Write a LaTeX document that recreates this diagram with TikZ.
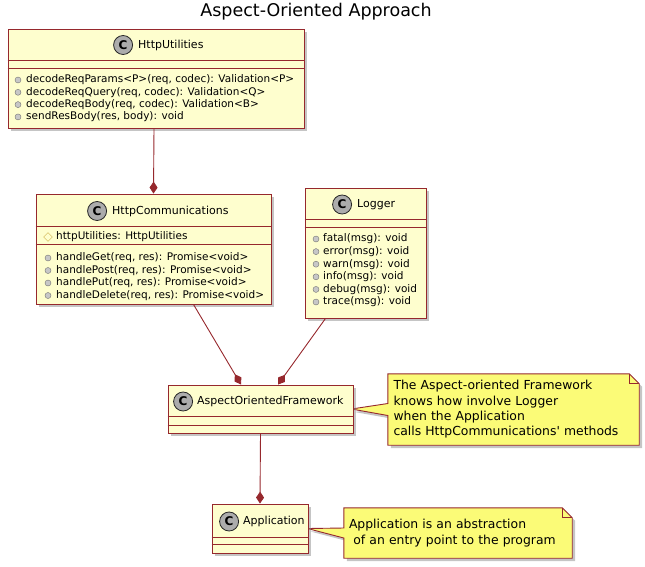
\documentclass[tikz,border=0pt]{standalone}
\usepackage{fontspec}
\setmainfont{DejaVu Sans}
\usetikzlibrary{positioning, shadows, arrows.meta, shapes.geometric, backgrounds}

\definecolor{classfill}{RGB}{254,254,206}
\definecolor{umlred}{RGB}{150,40,45}
\definecolor{notefill}{RGB}{251,251,119}
\definecolor{icongray}{RGB}{172,172,172}
\definecolor{protyellow}{RGB}{205,175,70}

\tikzset{
    classbox/.style={draw=umlred, fill=classfill, line width=0.9pt, inner sep=0pt,
        drop shadow={shadow xshift=3pt, shadow yshift=-3pt, fill=black!45, opacity=.5}},
    sep/.style={draw=umlred, line width=0.9pt},
    classname/.style={anchor=west, inner sep=0pt, font=\fontsize{11}{13}\selectfont},
    cicon/.style={circle, draw=black!85, fill=icongray, line width=0.8pt, minimum size=19pt,
        inner sep=0pt, font=\fontsize{12}{12}\selectfont\bfseries},
    member/.style={anchor=west, inner sep=0pt, font=\fontsize{10.5}{12}\selectfont},
    pubdot/.style={circle, draw=black!55, fill=black!22, minimum size=6pt, inner sep=0pt},
    protdot/.style={diamond, draw=protyellow, fill=classfill, minimum size=9pt, inner sep=0pt},
    compose/.style={draw=umlred, line width=0.9pt, -{Diamond[length=12pt,width=8pt]}},
    notebox/.style={inner sep=0pt, align=left, font=\fontsize{12.4}{15.3}\selectfont},
    noteshape/.style={draw=umlred, fill=notefill, line width=0.9pt,
        drop shadow={shadow xshift=3pt, shadow yshift=-3pt, fill=black!45, opacity=.5}},
}

\begin{document}
\begin{tikzpicture}[x=1pt, y=-1pt]
    \useasboundingbox (0,0) rectangle (645,566);

    \node[font=\fontsize{17.5}{20}\selectfont] (title) at (316,12) {Aspect-Oriented Approach};

    % HttpUtilities
    \node[classbox, minimum width=296pt, minimum height=99pt] (util) at (156,78.5) {};
    \draw[sep] ([yshift=-32pt]util.north west) -- ([yshift=-32pt]util.north east);
    \draw[sep] ([yshift=-40pt]util.north west) -- ([yshift=-40pt]util.north east);
    \node[classname] (utilname) at (138,45) {HttpUtilities};
    \node[cicon, left=5pt of utilname] (utilc) {C};
    \foreach \m [count=\i] in {{decodeReqParams<P>(req, codec): Validation<P>},
        {decodeReqQuery(req, codec): Validation<Q>},
        {decodeReqBody(req, codec): Validation<B>},
        {sendResBody(res, body): void}} {
        \node[pubdot] (util-d\i) at (18,67.7+12.3*\i) {};
        \node[member] (util-m\i) at (26,67.7+12.3*\i) {\m};
    }

    % HttpCommunications
    \node[classbox, minimum width=235pt, minimum height=110pt] (comm) at (153.5,249) {};
    \draw[sep] ([yshift=-33pt]comm.north west) -- ([yshift=-33pt]comm.north east);
    \draw[sep] ([yshift=-51pt]comm.north west) -- ([yshift=-51pt]comm.north east);
    \node[classname] (commname) at (112,211) {HttpCommunications};
    \node[cicon, left=5pt of commname] (commc) {C};
    \node[protdot] (comm-a) at (48,237) {};
    \node[member] (comm-attr) at (56,237) {httpUtilities: HttpUtilities};
    \foreach \m [count=\i] in {{handleGet(req, res): Promise<void>},
        {handlePost(req, res): Promise<void>},
        {handlePut(req, res): Promise<void>},
        {handleDelete(req, res): Promise<void>}} {
        \node[pubdot] (comm-d\i) at (48,245.5+12.5*\i) {};
        \node[member] (comm-m\i) at (56,245.5+12.5*\i) {\m};
    }

    % Logger
    \node[classbox, minimum width=121pt, minimum height=130pt] (logger) at (365.5,253) {};
    \draw[sep] ([yshift=-32pt]logger.north west) -- ([yshift=-32pt]logger.north east);
    \draw[sep] ([yshift=-40pt]logger.north west) -- ([yshift=-40pt]logger.north east);
    \node[classname] (loggername) at (357,204.5) {Logger};
    \node[cicon, left=5pt of loggername] (loggerc) {C};
    \foreach \m [count=\i] in {fatal(msg): void, error(msg): void, warn(msg): void,
        info(msg): void, debug(msg): void, trace(msg): void} {
        \node[pubdot] (logger-d\i) at (316,226.4+12.6*\i) {};
        \node[member] (logger-m\i) at (323,226.4+12.6*\i) {\m};
    }

    % AspectOrientedFramework
    \node[classbox, minimum width=185pt, minimum height=48pt] (aof) at (260.5,409) {};
    \draw[sep] ([yshift=-32pt]aof.north west) -- ([yshift=-32pt]aof.north east);
    \draw[sep] ([yshift=-41pt]aof.north west) -- ([yshift=-41pt]aof.north east);
    \node[classname] (aofname) at (197,401.5) {AspectOrientedFramework};
    \node[cicon, left=4pt of aofname] (aofc) {C};

    % Application
    \node[classbox, minimum width=96pt, minimum height=49pt] (app) at (260,528.5) {};
    \draw[sep] ([yshift=-34pt]app.north west) -- ([yshift=-34pt]app.north east);
    \draw[sep] ([yshift=-41pt]app.north west) -- ([yshift=-41pt]app.north east);
    \node[classname] (appname) at (243,521.5) {Application};
    \node[cicon, left=4pt of appname] (appc) {C};

    % compositions
    \draw[compose] ([xshift=-2pt]util.south) -- (comm.north);
    \draw[compose] ([xshift=40pt]comm.south) -- ([xshift=-19.5pt]aof.north);
    \draw[compose] ([xshift=-40pt]logger.south) -- ([xshift=17.5pt]aof.north);
    \draw[compose] (aof.south) -- (app.north);

    % notes
    \node[notebox, minimum width=251pt, minimum height=71pt, text width=240pt] (note1) at (513.5,409.5)
        {The Aspect-oriented Framework\\knows how involve Logger\\when the Application\\calls HttpCommunications\textquotesingle\ methods};
    \node[notebox, minimum width=228pt, minimum height=50pt, text width=218pt] (note2) at (458,533)
        {Application is an abstraction\\\hspace*{0.35em}of an entry point to the program};
    \coordinate (aoftip) at ([xshift=-2pt]aof.east);
    \coordinate (apptip) at ([xshift=-1pt]app.east);
    \begin{scope}[on background layer]
        \draw[noteshape] (note1.north west) -- ([xshift=-10pt]note1.north east)
            -- ([yshift=-10pt]note1.north east) -- (note1.south east) -- (note1.south west)
            -- ([yshift=-6pt]note1.west) -- (aoftip) -- ([yshift=6pt]note1.west) -- cycle;
        \draw[umlred, line width=0.9pt] ([xshift=-10pt]note1.north east) -- ([xshift=-10pt, yshift=-10pt]note1.north east)
            -- ([yshift=-10pt]note1.north east);
        \draw[noteshape] (note2.north west) -- ([xshift=-10pt]note2.north east)
            -- ([yshift=-10pt]note2.north east) -- (note2.south east) -- (note2.south west)
            -- ([yshift=-5pt]note2.west) -- (apptip) -- ([yshift=5pt]note2.west) -- cycle;
        \draw[umlred, line width=0.9pt] ([xshift=-10pt]note2.north east) -- ([xshift=-10pt, yshift=-10pt]note2.north east)
            -- ([yshift=-10pt]note2.north east);
    \end{scope}
\end{tikzpicture}
\end{document}
